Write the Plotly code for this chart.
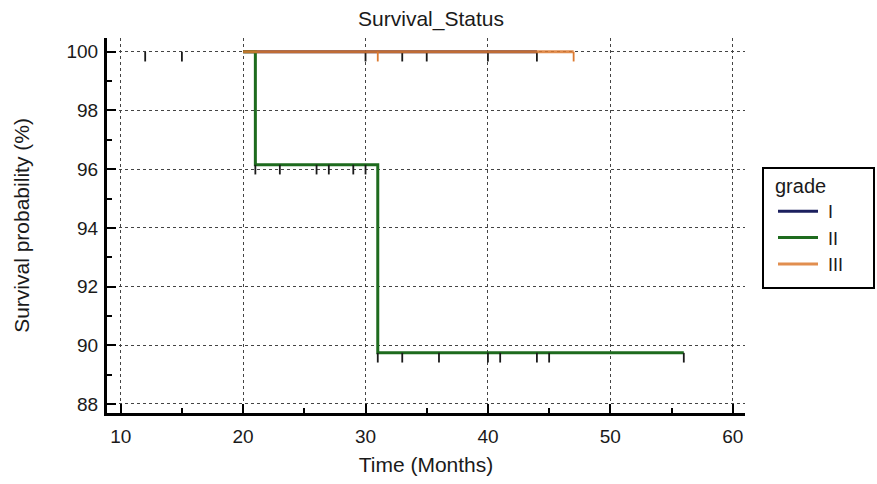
import plotly.graph_objects as go

# ---- data ----
grade_names = ["I", "II", "III"]
colors = ["#1b1f5e", "#1e6b1e", "#dc7a30"]

# step curves (time, survival %)
g1_time = [20, 44]
g1_surv = [100, 100]
g2_time = [20, 21, 31, 56]
g2_surv = [100, 96.15, 89.74, 89.74]
g3_time = [20, 47]
g3_surv = [100, 100]

# censored observations
g1_cens_t = [12, 15, 30, 33, 35, 40, 44]
g1_cens_s = [100, 100, 100, 100, 100, 100, 100]
g2_cens_t = [21, 23, 26, 27, 29, 30, 31, 33, 36, 40, 41, 44, 45, 56]
g2_cens_s = [96.15, 96.15, 96.15, 96.15, 96.15, 96.15,
             89.74, 89.74, 89.74, 89.74, 89.74, 89.74, 89.74, 89.74]
g3_cens_t = [31, 47]
g3_cens_s = [100, 100]

x_ticks = [10, 20, 30, 40, 50, 60]
y_ticks = [88, 90, 92, 94, 96, 98, 100]

fig = go.Figure()

curves = [(g1_time, g1_surv, g1_cens_t, g1_cens_s),
          (g2_time, g2_surv, g2_cens_t, g2_cens_s),
          (g3_time, g3_surv, g3_cens_t, g3_cens_s)]
opacities = [1.0, 1.0, 0.85]

font_family = "Liberation Sans, Arial, sans-serif"
txt = "#1a1a1a"
nbsp = "\u00a0"

for name, col, op, (t, s, ct, cs) in zip(grade_names, colors, opacities, curves):
    fig.add_trace(go.Scatter(
        x=t, y=s, mode="lines", line=dict(color=col, width=3, shape="hv"),
        opacity=op, name=nbsp + name, legendgroup=name, showlegend=True))
    fig.add_trace(go.Scatter(
        x=ct, y=cs, mode="markers", marker=dict(size=0.1, color=col, opacity=0),
        error_y=dict(type="data", symmetric=False, array=[0] * len(ct),
                     arrayminus=[0.33] * len(ct), width=0, thickness=1.8,
                     color="#1a1a1a" if name != "III" else col),
        name=name, legendgroup=name, showlegend=False, hoverinfo="skip"))

axis_common = dict(
    showline=True, linewidth=3, linecolor="black",
    ticks="inside", ticklen=9, tickwidth=2, tickcolor="black",
    showgrid=True, gridcolor="#444", griddash="dot", gridwidth=1,
    zeroline=False, automargin=False,
    tickfont=dict(family=font_family, size=19, color=txt),
)

fig.update_layout(
    width=877, height=484,
    paper_bgcolor="white", plot_bgcolor="white",
    margin=dict(l=107, r=132, t=38, b=71),
    title=dict(text="Survival_Status", x=431 / 877, xref="container",
               xanchor="center", y=1 - 19 / 484, yref="container", yanchor="middle",
               font=dict(family=font_family, size=21, color=txt)),
    xaxis=dict(range=[8.88, 61.0], tickvals=x_ticks,
               minor=dict(dtick=5, tick0=0, ticks="inside", ticklen=5, tickwidth=2,
                          tickcolor="black", showgrid=False),
               ticklabelstandoff=4,
               title=dict(text="Time (Months)", standoff=12,
                          font=dict(family=font_family, size=21, color=txt)),
               **axis_common),
    yaxis=dict(range=[87.69, 100.47], tickvals=y_ticks,
               minor=dict(dtick=1, tick0=0, ticks="inside", ticklen=5, tickwidth=2,
                          tickcolor="black", showgrid=False),
               ticklabelstandoff=2,
               title=dict(text="Survival probability (%)", standoff=32,
                          font=dict(family=font_family, size=21, color=txt)),
               **axis_common),
    legend=dict(title=dict(text="grade", font=dict(family=font_family, size=20, color=txt)),
                x=(773 - 107) / 638, xanchor="left", y=(413 - 167) / 375, yanchor="top",
                borderwidth=0, bgcolor="rgba(0,0,0,0)",
                font=dict(family=font_family, size=18, color=txt),
                tracegroupgap=0, itemwidth=40),
    showlegend=True,
    shapes=[dict(type="rect", xref="paper", yref="paper",
                 x0=(763 - 107) / 638, x1=(874 - 107) / 638,
                 y0=(413 - 288) / 375, y1=(413 - 168) / 375,
                 line=dict(color="black", width=2), fillcolor="rgba(0,0,0,0)",
                 layer="above")],
)

fig.write_html("out.html", config={"displayModeBar": False},
               post_script="document.body.style.margin='0';")
